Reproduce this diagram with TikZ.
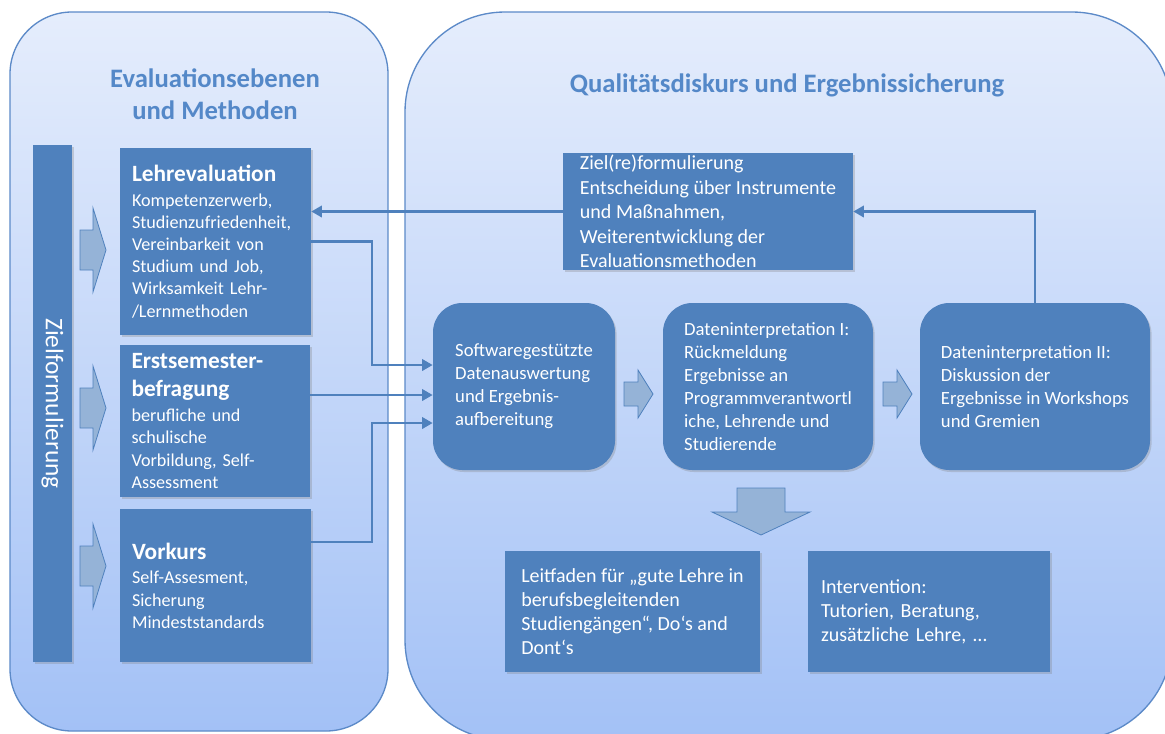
\documentclass[tikz,border=0pt]{standalone}
\usepackage{fontspec}
\setmainfont{Carlito}
\usetikzlibrary{arrows.meta,calc,shadows}

\definecolor{boxblue}{RGB}{79,129,189}
\definecolor{arrowblue}{RGB}{149,179,215}
\definecolor{titleblue}{RGB}{84,136,200}
\definecolor{paneltop}{RGB}{229,237,252}
\definecolor{panelbottom}{RGB}{163,193,246}
\definecolor{panelline}{RGB}{92,138,200}

\tikzset{
  panel/.style={draw=panelline, line width=1pt, top color=paneltop, bottom color=panelbottom},
  paneltitle/.style={text=titleblue, font=\fontsize{20}{24}\selectfont\bfseries, align=center},
  infobox/.style={fill=boxblue, text=white, align=left, inner sep=0pt,
    drop shadow={shadow xshift=1.2pt, shadow yshift=-1.5pt, opacity=.3},
    font=\fontsize{15}{17.25}\selectfont},
  levelbox/.style={infobox, text width=125.25pt, font=\fontsize{13.6}{16.6}\selectfont},
  stagebox/.style={infobox, rounded corners=22pt, font=\fontsize{14}{17.25}\selectfont},
  blockarrow/.style={fill=arrowblue, draw=boxblue, line width=.6pt},
  link/.style={draw=boxblue, line width=2pt, -{Triangle[length=8pt,width=8.5pt]}},
}
\newcommand{\boxhead}[1]{{\fontsize{17.5}{21}\selectfont\bfseries #1}}

\begin{document}
\begin{tikzpicture}[x=0.75pt, y=-0.75pt]
  \useasboundingbox (0,0) rectangle (1165,733);
  \clip (0,0) rectangle (1165,733);
  \fill[white] (0,0) rectangle (1165,733);

  % panels
  \draw[panel, rounded corners=46.5pt] (10,12) rectangle (388,731);
  \draw[panel, rounded corners=75pt] (405,12) rectangle (1172,740);
  \node[paneltitle] (titleleft) at (215,94) {Evaluationsebenen\\und Methoden};
  \node[paneltitle] (titleright) at (787,85) {Qualitätsdiskurs und Ergebnissicherung};

  % linke Seite
  \node[infobox, rotate=-90, minimum width=387.75pt, minimum height=29.25pt,
    font=\fontsize{19}{22}\selectfont] (zielbar) at (52.5,403.5) {Zielformulierung};
  \node[levelbox, minimum width=143.25pt, minimum height=140.25pt] (lehre) at (215.5,241.5)
    {\boxhead{Lehrevaluation}\\[2pt] Kompetenzerwerb,\\ Studienzufriedenheit,\\ Vereinbarkeit von\\
     Studium und Job,\\ Wirksamkeit Lehr-\\ /Lernmethoden};
  \node[levelbox, minimum width=142.5pt, minimum height=114pt] (erstsem) at (215,421)
    {\boxhead{Erstsemester-}\\[4.5pt] \boxhead{befragung}\\[2pt] berufliche und\\ schulische\\
     Vorbildung, Self-\\ Assessment};
  \node[levelbox, minimum width=143.25pt, minimum height=114.75pt] (vorkurs) at (215.5,585.5)
    {\boxhead{Vorkurs}\\[2pt] Self-Assesment,\\ Sicherung\\ Mindeststandards};

  \draw[blockarrow] (80,230) -- ++(13,0) -- ++(0,-22) -- ++(13,42) -- ++(-13,42) -- ++(0,-22) -- ++(-13,0) -- cycle;
  \draw[blockarrow] (80,388) -- ++(13,0) -- ++(0,-22) -- ++(13,42) -- ++(-13,42) -- ++(0,-22) -- ++(-13,0) -- cycle;
  \draw[blockarrow] (80,546) -- ++(13,0) -- ++(0,-22) -- ++(13,42) -- ++(-13,42) -- ++(0,-22) -- ++(-13,0) -- cycle;

  % rechte Seite
  \node[infobox, minimum width=217.5pt, minimum height=87.75pt, font=\fontsize{15}{18.4}\selectfont] (revision) at (708,211.5)
    {Ziel(re)formulierung\\ Entscheidung über Instrumente\\ und Maßnahmen,\\
     Weiterentwicklung der\\ Evaluationsmethoden};
  \node[stagebox, minimum width=136.5pt, minimum height=125.25pt] (auswertung) at (524,386.5)
    {Softwaregestützte\\ Datenauswertung\\ und Ergebnis-\\ aufbereitung};
  \node[stagebox, minimum width=157.5pt, minimum height=125.25pt] (deutung1) at (768,386.5)
    {Dateninterpretation I:\\ Rückmeldung\\ Ergebnisse an\\ Programmverantwortl\\
     iche, Lehrende und\\ Studierende};
  \node[stagebox, minimum width=172.5pt, minimum height=125.25pt] (deutung2) at (1035,386.5)
    {Dateninterpretation II:\\ Diskussion der\\ Ergebnisse in Workshops\\ und Gremien};
  \node[infobox, minimum width=191.25pt, minimum height=90.75pt,
    font=\fontsize{15}{18}\selectfont] (leitfaden) at (632.5,611.5)
    {Leitfaden für „gute Lehre in\\ berufsbegleitenden\\ Studiengängen“, Do‘s and\\ Dont‘s};
  \node[infobox, minimum width=181.5pt, minimum height=90.75pt, text width=162pt,
    font=\fontsize{15}{18}\selectfont] (intervention) at (929,611.5)
    {Intervention:\\ Tutorien, Beratung,\\ zusätzliche Lehre, …};

  \draw[blockarrow] (624,382) -- ++(14,0) -- ++(0,-12) -- ++(15,24) -- ++(-15,24) -- ++(0,-12) -- ++(-14,0) -- cycle;
  \draw[blockarrow] (883,382) -- ++(14,0) -- ++(0,-12) -- ++(15,24) -- ++(-15,24) -- ++(0,-12) -- ++(-14,0) -- cycle;
  \draw[blockarrow] (737,488) -- ++(48,0) -- ++(0,24) -- ++(25,0) -- ++(-49,23) -- ++(-49,-23) -- ++(25,0) -- cycle;

  % verbindungen
  \draw[link] (revision.west) -- (revision.west -| lehre.east);
  \draw[link] (deutung2.north) |- (revision.east);
  \draw[link] (lehre.east) -| (372,365) -- ($(auswertung.west)+(0,-21.5)$);
  \draw[link] ([yshift=19.5pt]erstsem.east) -- ([yshift=19.5pt]erstsem.east -| auswertung.west);
  \draw[link] ([yshift=32.6pt]vorkurs.east) -| (372,423) -- ($(auswertung.west)+(0,36.5)$);
\end{tikzpicture}
\end{document}
